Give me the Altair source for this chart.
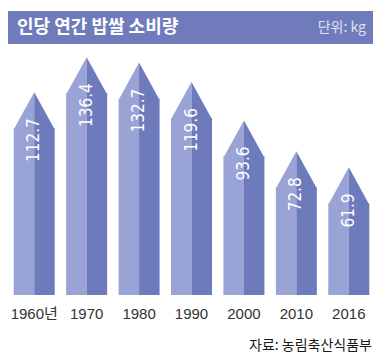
import altair as alt
import pandas as pd

years = ["1960년", "1970", "1980", "1990", "2000", "2010", "2016"]
values = [112.7, 136.4, 132.7, 119.6, 93.6, 72.8, 61.9]
labels = ["112.7", "136.4", "132.7", "119.6", "93.6", "72.8", "61.9"]

title_text = "인당 연간 밥쌀 소비량"
unit_text = "단위: kg"
source_text = "자료: 농림축산식품부"

LIGHT = "#99a3d5"
DARK = "#6d7abb"
HEAD = "#6f7bbb"
KFONT = "Noto Sans CJK KR"

df = pd.DataFrame({"year": years, "value": values, "label": labels})
one = pd.DataFrame({"k": [0]})

x_enc = alt.X(
    "year:N",
    sort=years,
    scale=alt.Scale(paddingInner=0, paddingOuter=0),
    axis=alt.Axis(
        title=None, domain=False, ticks=False, labelAngle=0,
        labelFontSize=15, labelColor="#333333", labelFont="Liberation Sans, " + KFONT,
        labelPadding=11, labelBaseline="top",
    ),
)
y_enc = alt.Y("value:Q", scale=alt.Scale(domain=[0, 194], nice=False), axis=None)

base = alt.Chart(df)

left_bar = base.mark_bar(color=LIGHT, size=20.5, xOffset=-10.25).encode(x=x_enc, y=y_enc)
right_bar = base.mark_bar(color=DARK, size=20.5, xOffset=10.25).encode(x=x_enc, y=y_enc)

left_tip = base.mark_point(
    shape="M-1,0.06L0,-1.76L0,0.06Z", size=1681, filled=True, opacity=1,
    color=LIGHT, strokeWidth=0,
).encode(x=x_enc, y=y_enc)
right_tip = base.mark_point(
    shape="M0,0.06L0,-1.76L1,0.06Z", size=1681, filled=True, opacity=1,
    color=DARK, strokeWidth=0,
).encode(x=x_enc, y=y_enc)

value_text = base.mark_text(
    angle=270, align="right", baseline="middle", dx=10,
    font="DejaVu Sans Condensed, Liberation Sans",
    fontSize=17, color="white",
).encode(x=x_enc, y=y_enc, text="label:N")

head_bar = alt.Chart(one).mark_rect(color=HEAD).encode(
    x=alt.value(0), x2=alt.value(365), y=alt.value(3), y2=alt.value(36)
)
head_title = alt.Chart(one).mark_text(
    align="left", baseline="middle", font=KFONT, fontSize=18, fontWeight="bold", color="white"
).encode(x=alt.value(9), y=alt.value(20), text=alt.value(title_text))
head_unit = alt.Chart(one).mark_text(
    align="right", baseline="middle", font=KFONT, fontSize=14, color="#dfe2f3"
).encode(x=alt.value(358), y=alt.value(20), text=alt.value(unit_text))
source = alt.Chart(one).mark_text(
    align="right", baseline="middle", font=KFONT, fontSize=14, color="#1a1a1a"
).encode(x=alt.value(364), y=alt.value(338), text=alt.value(source_text))

chart = alt.layer(
    head_bar, head_title, head_unit,
    left_bar, right_bar, left_tip, right_tip, value_text, source,
).properties(
    width=367, height=287,
    autosize=alt.AutoSizeParams(type="none"),
    padding={"left": 0, "top": 0, "right": 0, "bottom": 62},
    background="white",
).configure_view(stroke=None)

chart.save("out.html", embed_options={"renderer": "svg", "actions": False})
